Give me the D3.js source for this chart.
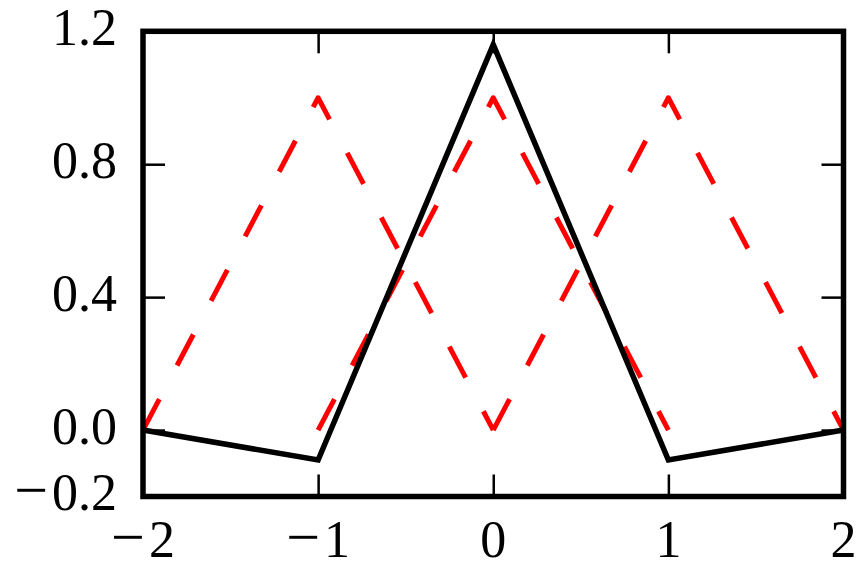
<!DOCTYPE html>
<html>
<head>
<meta charset="utf-8">
<script src="https://cdn.jsdelivr.net/npm/d3@7"></script>
<style>
  html, body { margin: 0; padding: 0; background: #fff; }
  svg { display: block; }
  text { font-family: "Liberation Serif", "Times New Roman", serif; }
</style>
</head>
<body>
<svg id="chart" width="864" height="577"></svg>
<script>
// ---- data ----
const xValues = [-2, -1, 0, 1, 2];
const blackValues = [0, -0.09, 1.16, -0.09, 0];
const hatCenters = [-1, 0, 1];
const hatOffsets = [-1, 0, 1];
const hatHeights = [0, 1, 0];
const xTicks = [-2, -1, 0, 1, 2];
const yTicks = [-0.2, 0.0, 0.4, 0.8, 1.2];
const yTickLabels = ["\u22120.2", "0.0", "0.4", "0.8", "1.2"];
const xTickLabels = ["\u22122", "\u22121", "0", "1", "2"];

// ---- layout ----
const svg = d3.select("#chart");
const pLeft = 143, pRight = 843.5, pTop = 31.3, pBottom = 496.5;
const x = d3.scaleLinear().domain([-2, 2]).range([pLeft, pRight]);
const y = d3.scaleLinear().domain([-0.2, 1.2]).range([pBottom, pTop]);

const line = d3.line().x(d => x(d[0])).y(d => y(d[1]));

// red dashed hat functions
hatCenters.forEach(c => {
  const pts = hatOffsets.map((o, i) => [c + o, hatHeights[i]]);
  svg.append("path")
    .attr("d", line(pts))
    .attr("fill", "none")
    .attr("stroke", "#ff0000")
    .attr("stroke-width", 5)
    .attr("stroke-dasharray", "35,38")
    .attr("stroke-linejoin", "round")
    .attr("stroke-linecap", "butt");
});

// black solid line
svg.append("path")
  .attr("d", line(xValues.map((v, i) => [v, blackValues[i]])))
  .attr("fill", "none")
  .attr("stroke", "#000")
  .attr("stroke-width", 5.5)
  .attr("stroke-linejoin", "miter")
  .attr("stroke-miterlimit", 10);

// axes with inward ticks on all sides
const tickLen = 22;
const axB = d3.axisBottom(x).tickValues(xTicks).tickSize(-tickLen).tickFormat("");
const axT = d3.axisTop(x).tickValues(xTicks).tickSize(-tickLen).tickFormat("");
const axL = d3.axisLeft(y).tickValues(yTicks).tickSize(-tickLen).tickFormat("");
const axR = d3.axisRight(y).tickValues(yTicks).tickSize(-tickLen).tickFormat("");

function styleAxis(g) {
  g.select(".domain").remove();
  g.selectAll(".tick line").attr("stroke", "#000").attr("stroke-width", 2.5);
}
svg.append("g").attr("transform", `translate(0,${pBottom})`).call(axB).call(styleAxis);
svg.append("g").attr("transform", `translate(0,${pTop})`).call(axT).call(styleAxis);
svg.append("g").attr("transform", `translate(${pLeft},0)`).call(axL).call(styleAxis);
svg.append("g").attr("transform", `translate(${pRight},0)`).call(axR).call(styleAxis);

// frame
svg.append("rect")
  .attr("x", pLeft).attr("y", pTop)
  .attr("width", pRight - pLeft).attr("height", pBottom - pTop)
  .attr("fill", "none")
  .attr("stroke", "#000")
  .attr("stroke-width", 5.5);

// tick labels (minus sign drawn a little wider, like mathtext)
const fontSize = 52;
function fillLabel(sel, label) {
  if (label.startsWith("\u2212")) {
    sel.append("tspan").attr("font-size", 60).text("\u2212");
    sel.append("tspan").attr("dx", 4).text(label.slice(1));
  } else {
    sel.text(label);
  }
}

svg.append("g").selectAll("text")
  .data(yTicks)
  .join("text")
  .attr("x", pLeft - 26)
  .attr("y", d => y(d) + 13.5)
  .attr("text-anchor", "end")
  .attr("font-size", fontSize)
  .attr("fill", "#000")
  .each(function(d, i) { fillLabel(d3.select(this), yTickLabels[i]); });

svg.append("g").selectAll("text")
  .data(xTicks)
  .join("text")
  .attr("x", d => x(d))
  .attr("y", pBottom + 60.5)
  .attr("text-anchor", "middle")
  .attr("font-size", fontSize)
  .attr("fill", "#000")
  .each(function(d, i) { fillLabel(d3.select(this), xTickLabels[i]); });
</script>
</body>
</html>
